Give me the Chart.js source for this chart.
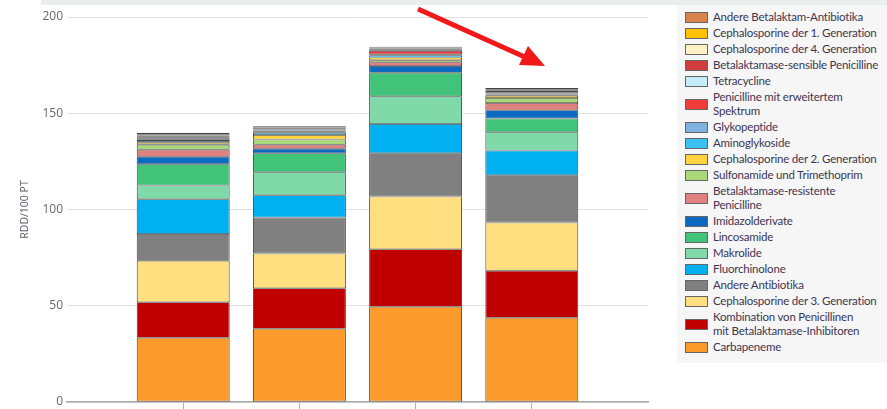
<!DOCTYPE html>
<html>
<head>
<meta charset="utf-8">
<script src="https://cdn.jsdelivr.net/npm/chart.js@4/dist/chart.umd.min.js"></script>
<style>
  html, body { margin: 0; padding: 0; background: #fff; }
  body { width: 887px; height: 409px; position: relative; overflow: hidden; font-family: Lato, sans-serif; }
  .topband { position: absolute; left: 41px; top: 0; width: 846px; height: 5px; background: #e9eded; }
  .chart-wrap { position: absolute; left: 0; top: 0; width: 660px; height: 409px; }
  #legend { position: absolute; left: 677px; top: 5px; width: 210px; height: 358px; background: #f6f6f6;
            box-sizing: border-box; padding-top: 5px; }
  .item { display: flex; align-items: center; margin-bottom: 2px; }
  .sw { width: 23px; height: 11px; border: 1px solid #666; box-sizing: border-box; margin-left: 8px; margin-right: 5px; flex: none; }
  .txt { font-size: 11.5px; letter-spacing: -0.2px; line-height: 14px; color: #3d3551; white-space: pre; }
</style>
</head>
<body>
<div class="topband"></div>
<div class="chart-wrap"><canvas id="rddChart"></canvas></div>
<div id="legend"></div>

<script>
// bar positions on the x axis (labels are not shown)
const categories = ['1', '2', '3', '4'];

// RDD/100 PT per substance class, bottom of the stack first
const carbapeneme      = [33.4, 38.1, 49.5, 43.8];
const kombination      = [18.4, 21.0, 29.8, 24.4];
const cephalo3         = [21.6, 18.1, 27.5, 25.1];
const andereAntibiotika= [13.9, 18.7, 22.4, 24.5];
const fluorchinolone   = [18.0, 11.5, 15.2, 12.9];
const makrolide        = [7.2, 11.9, 14.4, 9.4];
const lincosamide      = [11.0, 9.9, 12.3, 7.2];
const imidazol         = [3.9, 2.4, 3.4, 4.2];
const betaResistente   = [3.7, 2.1, 2.0, 3.8];
const sulfonamide      = [2.6, 2.6, 1.0, 2.6];
const cephalo2         = [1.0, 2.4, 1.5, 1.2];
const aminoglykoside   = [0.9, 1.2, 1.1, 0.6];
const glykopeptide     = [0.6, 0.5, 0.5, 0.5];
const penErweitert     = [0.6, 0.7, 1.7, 0.5];
const tetracycline     = [0.5, 0.4, 0.4, 0.4];
const betaSensible     = [0.7, 0.7, 0.6, 0.5];
const cephalo4         = [0.5, 0.4, 0.4, 0.4];
const cephalo1         = [0.6, 0.3, 0.4, 0.5];
const andereBetalaktam = [0.8, 0.3, 0.4, 0.6];

const yTicks = [0, 50, 100, 150, 200];

const series = [
  ['Carbapeneme', carbapeneme, '#fd9a2c'],
  ['Kombination von Penicillinen\nmit Betalaktamase-Inhibitoren', kombination, '#c00000'],
  ['Cephalosporine der 3. Generation', cephalo3, '#ffdf80'],
  ['Andere Antibiotika', andereAntibiotika, '#808080'],
  ['Fluorchinolone', fluorchinolone, '#00b0f0'],
  ['Makrolide', makrolide, '#80d9a8'],
  ['Lincosamide', lincosamide, '#42c37a'],
  ['Imidazolderivate', imidazol, '#0a6ac0'],
  ['Betalaktamase-resistente\nPenicilline', betaResistente, '#e08080'],
  ['Sulfonamide und Trimethoprim', sulfonamide, '#a9d77a'],
  ['Cephalosporine der 2. Generation', cephalo2, '#ffd23f'],
  ['Aminoglykoside', aminoglykoside, '#3cc2f2'],
  ['Glykopeptide', glykopeptide, '#7fb2e0'],
  ['Penicilline mit erweitertem\nSpektrum', penErweitert, '#f23c3c'],
  ['Tetracycline', tetracycline, '#c4ecfa'],
  ['Betalaktamase-sensible Penicilline', betaSensible, '#d03c3c'],
  ['Cephalosporine der 4. Generation', cephalo4, '#fff2c4'],
  ['Cephalosporine der 1. Generation', cephalo1, '#ffc000'],
  ['Andere Betalaktam-Antibiotika', andereBetalaktam, '#d9844b']
];

const datasets = series.map(([label, values, color]) => ({
  label: label,
  data: values.map((v, i) => ({ x: i + 1, y: v })),
  backgroundColor: color,
  borderColor: '#454545',
  borderWidth: { top: 0.75, bottom: 0.75, left: 1, right: 1 },
  borderSkipped: false,
  barPercentage: 1,
  categoryPercentage: 0.8
}));

// red pointer arrow above the last bar
const arrowPlugin = {
  id: 'arrow',
  afterDraw(chart) {
    const ctx = chart.ctx;
    ctx.save();
    ctx.strokeStyle = '#f01818';
    ctx.fillStyle = '#f01818';
    ctx.lineWidth = 5;
    ctx.beginPath();
    ctx.moveTo(418, 9);
    ctx.lineTo(527, 58);
    ctx.stroke();
    ctx.beginPath();
    ctx.moveTo(545, 66);
    ctx.lineTo(519, 65);
    ctx.lineTo(528, 46);
    ctx.closePath();
    ctx.fill();
    ctx.restore();
  }
};

const chart = new Chart(document.getElementById('rddChart'), {
  type: 'bar',
  data: { datasets: datasets },
  plugins: [arrowPlugin],
  options: {
    responsive: true,
    maintainAspectRatio: false,
    animation: false,
    layout: { padding: { top: 17, right: 12, left: 0, bottom: 0 } },
    plugins: {
      legend: { display: false },
      tooltip: { enabled: true }
    },
    scales: {
      x: {
        type: 'linear',
        stacked: true,
        offset: false,
        min: 0,
        max: categories.length + 1,
        afterBuildTicks: (scale) => { scale.ticks = categories.map((c, i) => ({ value: i + 1 })); },
        afterFit: (scale) => { scale.height = 7; scale.paddingLeft = 0; scale.paddingRight = 0; },
        ticks: { display: false },
        grid: { offset: false, drawOnChartArea: false, tickLength: 7, color: '#b0b0b0' },
        border: { color: '#a8a8a8', width: 1.5 }
      },
      y: {
        stacked: true,
        min: 0,
        max: 200,
        afterBuildTicks: (scale) => { scale.ticks = yTicks.map(v => ({ value: v })); },
        afterFit: (scale) => { scale.width = 67; scale.paddingTop = 0; scale.paddingBottom = 0; },
        ticks: { color: '#666', padding: 4, font: { family: 'Open Sans', size: 12 } },
        grid: { color: '#e2e2e2', drawTicks: false },
        border: { display: false },
        title: {
          display: true,
          text: 'RDD/100 PT',
          color: '#5b5868',
          font: { family: 'Open Sans', size: 10.5 },
          padding: { top: 19, bottom: 0 }
        }
      }
    }
  }
});

// legend box, top entry = top of the stack
const legendEl = document.getElementById('legend');
chart.data.datasets.slice().reverse().forEach(ds => {
  const item = document.createElement('div');
  item.className = 'item';
  const sw = document.createElement('span');
  sw.className = 'sw';
  sw.style.background = ds.backgroundColor;
  const txt = document.createElement('span');
  txt.className = 'txt';
  txt.textContent = ds.label;
  item.appendChild(sw);
  item.appendChild(txt);
  legendEl.appendChild(item);
});
</script>
</body>
</html>
